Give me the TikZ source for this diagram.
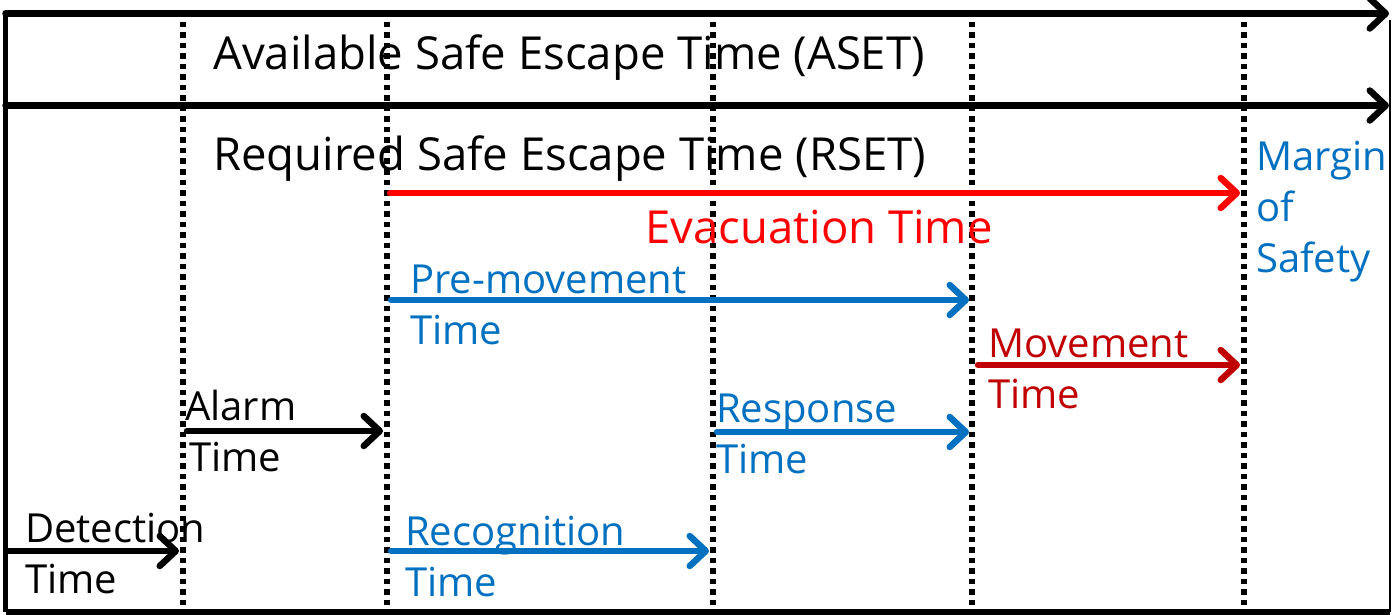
\documentclass[tikz,border=0pt]{standalone}
\usepackage{fontspec}
\setmainfont{Open Sans}
\usetikzlibrary{arrows.meta}
\definecolor{cblue}{HTML}{0070C0}
\definecolor{cred}{HTML}{FF0000}
\definecolor{cdred}{HTML}{C00000}
\tikzset{
  tarrow/.style={line width=6.5pt,line cap=round,-{Straight Barb[length=16pt,width=30pt,line cap=round,line join=round]}},
  frameline/.style={line width=5.5pt},
  vdot/.style={line width=5.5pt,dash pattern=on 5.5pt off 5pt},
  lbl/.style={anchor=base west,inner sep=0pt,font=\fontsize{40}{51}\selectfont,align=left},
  big/.style={anchor=base west,inner sep=0pt,font=\fontsize{45.5}{56}\selectfont},
}
\begin{document}
\begin{tikzpicture}[x=1pt,y=-1pt]
\useasboundingbox (0,0) rectangle (1392,615);
% frame corners
\coordinate (L0) at (5.5,13.5);
\coordinate (R0) at (1389,13.5);
\coordinate (L1) at (5.5,105.5);
\coordinate (R1) at (1389,105.5);
\coordinate (LB) at (5.5,612);
\coordinate (RB) at (1390,612);
\coordinate (RT) at (1390,20);
% dotted verticals
\foreach \n/\x in {a/183,b/387,c/713,d/972,e/1244}{
  \coordinate (\n top) at (\x,22);
  \coordinate (\n bot) at (\x,612);
  \draw[vdot] (\n top) -- (\n bot);
}
% frame
\draw[frameline] (LB) -- (L0);
\draw[line width=2.5pt] (RT) -- (RB);
\draw[frameline] (LB) -- (RB);
\draw[tarrow] (L0) -- (R0);
\draw[tarrow] (L1) -- (R1);
% titles
\node[big] (aset) at (213,70) {Available Safe Escape Time (ASET)};
\node[big] (rset) at (213,170) {Required Safe Escape Time (RSET)};
% evacuation
\coordinate (ev0) at (390,193);
\coordinate (ev1) at (1240,193);
\draw[tarrow,cred] (ev0) -- (ev1);
\node[big,text=cred] (evac) at (645,243) {Evacuation Time};
% pre-movement
\coordinate (pm0) at (391,300);
\coordinate (pm1) at (969,300);
\draw[tarrow,cblue] (pm0) -- (pm1);
\node[lbl,text=cblue] (prem) at (410,344) {Pre-movement\\Time};
% movement
\coordinate (mv0) at (978,365);
\coordinate (mv1) at (1240,365);
\draw[tarrow,cdred] (mv0) -- (mv1);
\node[lbl,text=cdred] (move) at (988,408) {Movement\\Time};
% alarm
\coordinate (al0) at (187,431);
\coordinate (al1) at (383,431);
\draw[tarrow,black] (al0) -- (al1);
\node[lbl] (alarm) at (185,471) {Alarm\\\hspace*{4pt}Time};
% response
\coordinate (rs0) at (717,432);
\coordinate (rs1) at (969,432);
\draw[tarrow,cblue] (rs0) -- (rs1);
\node[lbl,text=cblue] (resp) at (716,473) {Response\\Time};
% detection
\coordinate (dt0) at (8,551);
\coordinate (dt1) at (179,551);
\draw[tarrow,black] (dt0) -- (dt1);
\node[lbl] (det) at (25,593) {Detection\\Time};
% recognition
\coordinate (rc0) at (391,551);
\coordinate (rc1) at (709,551);
\draw[tarrow,cblue] (rc0) -- (rc1);
\node[lbl,text=cblue] (recog) at (405,596) {Recognition\\Time};
% margin
\node[lbl,text=cblue] (margin) at (1256,272) {Margin\\of\\Safety};
\end{tikzpicture}
\end{document}
